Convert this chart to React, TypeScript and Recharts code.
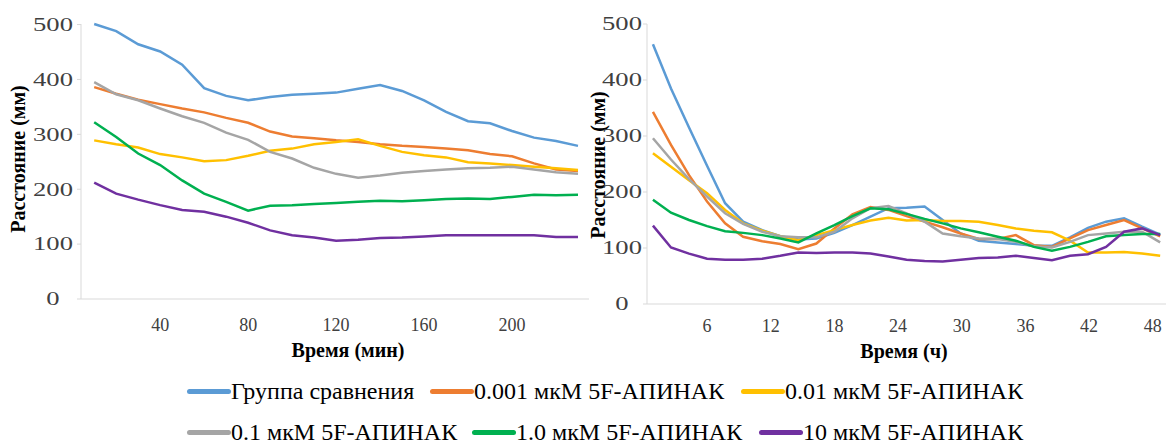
import { LineChart, Line, XAxis, YAxis } from 'recharts';

// time points (left: minutes, right: hours)
const minutes = [10, 20, 30, 40, 50, 60, 70, 80, 90, 100, 110, 120, 130, 140, 150, 160, 170, 180, 190, 200, 210, 220, 230];
const hours = [0.9, 2.6, 4.3, 6.0, 7.7, 9.4, 11.2, 12.9, 14.6, 16.3, 18.0, 19.7, 21.4, 23.1, 24.8, 26.5, 28.2, 29.9, 31.6, 33.4, 35.1, 36.8, 38.5, 40.2, 41.9, 43.6, 45.3, 47.0, 48.7];

const minTicks = [40, 80, 120, 160, 200];
const hourTicks = [6, 12, 18, 24, 30, 36, 42, 48];
const yTicks = [0, 100, 200, 300, 400, 500];

const seriesKeys = ['control', 'c0001', 'c001', 'c01', 'c1', 'c10'];
const seriesNames = [
  'Группа сравнения',
  '0.001 мкМ 5F-АПИНАК',
  '0.01 мкМ 5F-АПИНАК',
  '0.1 мкМ 5F-АПИНАК',
  '1.0 мкМ 5F-АПИНАК',
  '10 мкМ 5F-АПИНАК',
];
const seriesColors = ['#5B9BD5', '#ED7D31', '#FFC000', '#A5A5A5', '#00B050', '#7030A0'];

// left panel, distance (mm) by minute
const controlMin = [501, 488, 464, 451, 427, 384, 370, 362, 368, 372, 374, 376, 383, 390, 379, 362, 341, 324, 320, 306, 294, 288, 279];
const c0001Min = [386, 374, 363, 355, 347, 340, 330, 321, 305, 296, 293, 289, 286, 282, 279, 277, 274, 271, 264, 260, 247, 236, 233];
const c001Min = [289, 282, 276, 264, 258, 251, 253, 261, 270, 274, 282, 286, 291, 279, 268, 262, 258, 249, 247, 244, 241, 238, 235];
const c01Min = [395, 373, 362, 347, 333, 321, 303, 290, 268, 256, 239, 228, 221, 225, 230, 233, 236, 238, 239, 241, 236, 231, 228];
const c1Min = [322, 295, 265, 244, 216, 192, 177, 161, 170, 171, 173, 175, 177, 179, 178, 180, 182, 183, 182, 186, 190, 189, 190];
const c10Min = [212, 192, 181, 171, 162, 159, 150, 139, 125, 116, 112, 106, 108, 111, 112, 114, 116, 116, 116, 116, 116, 113, 113];

// right panel, distance (mm) by hour
const controlH = [464, 385, 315, 247, 180, 147, 132, 121, 115, 117, 127, 141, 156, 171, 172, 174, 150, 126, 113, 110, 107, 104, 104, 119, 136, 147, 153, 138, 124];
const c0001H = [343, 284, 230, 183, 144, 120, 112, 107, 98, 108, 135, 160, 173, 168, 157, 147, 137, 126, 116, 116, 123, 105, 102, 117, 132, 141, 150, 135, 121];
const c001H = [269, 245, 221, 198, 168, 144, 131, 121, 114, 123, 132, 141, 149, 154, 149, 150, 148, 148, 147, 141, 135, 131, 128, 113, 92, 92, 93, 90, 86];
const c01H = [296, 258, 223, 192, 162, 143, 129, 121, 119, 119, 129, 153, 171, 175, 162, 147, 126, 121, 117, 116, 111, 103, 101, 111, 123, 126, 129, 129, 110];
const c1H = [186, 163, 150, 139, 130, 127, 123, 117, 110, 126, 141, 157, 171, 169, 161, 152, 144, 135, 128, 120, 113, 102, 95, 102, 111, 121, 123, 125, 125];
const c10H = [140, 101, 90, 81, 79, 79, 81, 86, 92, 91, 92, 92, 90, 85, 79, 77, 76, 79, 82, 83, 86, 82, 78, 86, 89, 102, 129, 135, 123];

const leftData = minutes.map((t, i) => ({
  t,
  control: controlMin[i],
  c0001: c0001Min[i],
  c001: c001Min[i],
  c01: c01Min[i],
  c1: c1Min[i],
  c10: c10Min[i],
}));

const rightData = hours.map((t, i) => ({
  t,
  control: controlH[i],
  c0001: c0001H[i],
  c001: c001H[i],
  c01: c01H[i],
  c1: c1H[i],
  c10: c10H[i],
}));

const font = "'Liberation Serif', 'Times New Roman', serif";
const axisGray = '#d9d9d9';
const tickText = '#404040';

function YTick(props: any) {
  const { x, y, payload } = props;
  const s = String(payload.value);
  return (
    <text
      x={x - 20}
      y={y}
      dy="0.355em"
      textAnchor="middle"
      style={{ fontSize: 18, fontFamily: font }}
      fill={tickText}
      textLength={s.length * 13.3}
      lengthAdjust="spacingAndGlyphs"
    >
      {s}
    </text>
  );
}

function XTick(props: any) {
  const { x, y, payload } = props;
  return (
    <text x={x} y={y} dy="0.71em" textAnchor="middle" style={{ fontSize: 18, fontFamily: font }} fill={tickText}>
      {payload.value}
    </text>
  );
}

const yTitle = (x: number, y: number) => () => (
  <text
    x={x}
    y={y}
    transform={`rotate(-90, ${x}, ${y})`}
    textAnchor="middle"
    style={{ fontSize: 20, fontWeight: 'bold', fontFamily: font }}
    fill="#000"
  >
    Расстояние (мм)
  </text>
);

const xTitle = (text: string, x: number, y: number) => () => (
  <text x={x} y={y} textAnchor="middle" style={{ fontSize: 20, fontWeight: 'bold', fontFamily: font }} fill="#000">
    {text}
  </text>
);

function renderLines() {
  return seriesKeys.map((k, i) => (
    <Line
      key={k}
      type="linear"
      dataKey={k}
      stroke={seriesColors[i]}
      strokeWidth={2.5}
      dot={false}
      activeDot={false}
      isAnimationActive={false}
    />
  ));
}

function LegendItem({ idx, left, top }: { idx: number; left: number; top: number }) {
  return (
    <div style={{ position: 'absolute', left, top, display: 'flex', alignItems: 'center', whiteSpace: 'nowrap' }}>
      <div style={{ width: 44, height: 5, borderRadius: 3, background: seriesColors[idx] }} />
      <span style={{ fontSize: 24, lineHeight: '24px', fontFamily: font, color: '#000' }}>{seriesNames[idx]}</span>
    </div>
  );
}

export default function App() {
  return (
    <div style={{ position: 'absolute', left: 0, top: 0, width: 1166, height: 444, background: '#fff', overflow: 'hidden', fontFamily: font }}>
      <div style={{ position: 'absolute', left: 0, top: 0 }}>
        <LineChart width={590} height={370} data={leftData} margin={{ top: 24, right: 1, bottom: 0, left: 0 }}>
          <XAxis
            type="number"
            dataKey="t"
            domain={[4, 235]}
            ticks={minTicks}
            allowDataOverflow
            height={71}
            axisLine={{ stroke: axisGray }}
            tickLine={false}
            tickSize={0}
            tickMargin={19}
            tick={XTick}
            label={xTitle('Время (мин)', 348, 357)}
          />
          <YAxis
            type="number"
            domain={[0, 500]}
            ticks={yTicks}
            width={81}
            axisLine={{ stroke: axisGray }}
            tickLine={{ stroke: axisGray }}
            tickSize={4}
            tickMargin={4}
            tick={YTick}
            label={yTitle(25, 159)}
          />
          {renderLines()}
        </LineChart>
      </div>
      <div style={{ position: 'absolute', left: 560, top: 0 }}>
        <LineChart width={606} height={370} data={rightData} margin={{ top: 24, right: 0, bottom: 0, left: 0 }}>
          <XAxis
            type="number"
            dataKey="t"
            domain={[0.34, 49.25]}
            ticks={hourTicks}
            allowDataOverflow
            height={66}
            axisLine={{ stroke: axisGray }}
            tickLine={false}
            tickSize={0}
            tickMargin={15}
            tick={XTick}
            label={xTitle('Время (ч)', 344, 358)}
          />
          <YAxis
            type="number"
            domain={[0, 500]}
            ticks={yTicks}
            width={87}
            axisLine={{ stroke: axisGray }}
            tickLine={{ stroke: axisGray }}
            tickSize={4}
            tickMargin={1}
            tick={YTick}
            label={yTitle(45, 165)}
          />
          {renderLines()}
        </LineChart>
      </div>
      <LegendItem idx={0} left={187} top={379} />
      <LegendItem idx={1} left={430} top={379} />
      <LegendItem idx={2} left={741} top={379} />
      <LegendItem idx={3} left={187} top={420} />
      <LegendItem idx={4} left={472} top={420} />
      <LegendItem idx={5} left={759} top={420} />
    </div>
  );
}
